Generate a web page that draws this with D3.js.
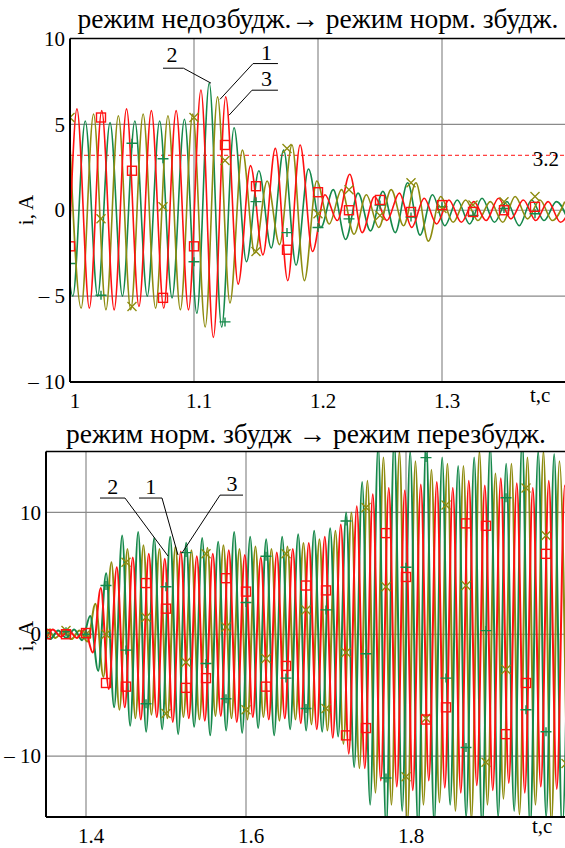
<!DOCTYPE html>
<html><head><meta charset="utf-8">
<script src="https://cdn.jsdelivr.net/npm/d3@7"></script>
<style>
html,body{margin:0;padding:0;background:#fff;}
</style></head>
<body>
<svg id="chart" width="565" height="848"></svg>
<script>
// ---------------- DATA ----------------
// Top panel: sampled extremes (peak / trough alternating), every half period (0.01 s)
const topStep = 0.01;
const topRedStart = 0.9856, topGreenStart = 0.9923, topOliveStart = 0.999;
const topRed = [5.8,-5.6,5.9,-5.7,5.8,-5.8,5.9,-5.6,5.8,-5.7,5.8,-5.8,7.0,-7.4,6.6,-4.3,2.6,-2.6,3.6,-4.1,3.8,-2.4,0.9,-0.6,2.1,-1.3,0.8,-0.6,1.0,-1.0,0.7,-0.8,0.6,-0.7,0.5,-0.6,0.7,-0.5,0.6,-0.6,0.5,-0.7,0.5];
const topGreen = [5.1,-5.0,5.2,-5.0,5.1,-5.0,5.2,-5.0,5.2,-5.1,5.3,-6.0,7.4,-6.8,4.8,-3.0,2.3,-2.2,3.5,-3.2,2.4,-1.0,1.2,-1.7,1.0,-1.2,1.1,-1.3,1.6,-1.45,0.9,-0.9,0.6,-0.8,0.7,-0.7,0.5,-0.9,0.6,-0.6,0.5,-0.7];
const topOlive = [5.5,-5.7,5.6,-5.8,5.5,-5.8,5.6,-5.7,5.5,-5.8,5.6,-6.8,6.6,-5.4,3.5,-2.5,1.7,-2.0,3.8,-4.1,1.7,-0.8,1.2,-1.4,0.9,-1.0,1.2,-0.9,1.6,-1.8,0.8,-0.7,0.6,-0.6,0.5,-0.7,0.8,-0.5,0.6,-0.6,0.5];
// Top panel markers, every 0.025 s from t = 1.0
const topMarkStart = 1.0, markStep = 0.025;
const topRedMarks = [-2.1,5.4,2.3,-5.1,-2.1,3.8,1.4,-2.3,1.05,0.0,0.6,-0.1,0.3,-0.1,0.0,0.2];
const topGreenMarks = [-3.1,-4.95,3.9,3.0,-3.0,-6.5,0.5,-1.3,-1.0,-0.5,0.3,-0.4,0.2,-0.3,0.1,-0.2];
const topOliveMarks = [5.4,-0.5,-5.6,0.2,5.4,2.9,-2.4,3.6,-0.2,1.2,-0.3,1.6,0.1,0.3,0.5,0.8];
const topLevel = 3.2;

// Bottom panel
const botStep = 0.01;
const botRedStart = 1.3385, botGreenStart = 1.3452, botOliveStart = 1.3318;
const botRed = [0.3,-0.3,0.4,-0.2,0.3,-0.3,0.4,-1.5,3.8,-4.5,5.5,-6.0,6.3,-7.0,6.6,-6.8,6.2,-7.2,6.8,-6.9,6.4,-7.1,6.6,-6.7,6.9,-7.2,6.5,-6.8,6.3,-7.0,6.7,-6.9,7.0,-7.3,7.5,-7.8,8.0,-8.5,9.0,-9.8,10.5,-11.0,11.5,-12.0,12.0,-12.5,11.8,-12.8,12.3,-12.0,12.5,-12.6,12.0,-13.0,12.6,-12.4,12.2,-12.8,12.8,-12.2,12.4,-13.0,12.0,-12.5,12.6,-12.7,12.2,-12.5];
const botGreen = [0.4,-0.4,0.3,-0.3,0.4,-0.5,1.5,-3.0,5.0,-6.0,8.1,-7.5,8.4,-8.0,7.9,-7.8,8.0,-8.2,7.5,-7.6,7.9,-8.3,7.6,-7.9,8.4,-8.1,8.0,-7.7,7.8,-8.3,8.0,-7.8,8.2,-7.9,8.5,-8.0,8.7,-8.4,10.0,-10.9,12.5,-14.0,15.5,-16.0,16.0,-14.5,15.0,-16.0,16.0,-15.5,14.5,-14.0,13.8,-15.0,14.5,-16.0,15.5,-15.0,14.0,-14.5,16.0,-16.0,15.0,-15.0,14.8,-16.0,15.5];
const botOlive = [0.3,-0.3,0.4,-0.3,0.3,-0.4,0.3,-0.6,2.5,-3.5,5.9,-6.2,7.0,-6.9,7.3,-6.6,7.0,-6.9,7.2,-6.8,6.9,-7.0,7.1,-6.7,7.3,-6.9,7.0,-7.0,7.2,-6.8,7.0,-7.1,7.2,-7.0,7.5,-7.4,7.8,-7.9,8.5,-9.0,10.0,-11.0,12.6,-13.0,14.5,-14.0,15.0,-15.5,14.2,-14.0,13.5,-13.8,14.0,-14.5,13.8,-15.2,15.0,-14.0,13.2,-13.5,14.0,-14.8,14.5,-14.0,15.0,-15.5,14.2,-14.8];
const botMarkStart = 1.35;
const botRedMarks = [0.0,0.0,0.1,-4.0,-4.3,4.2,2.1,-4.4,-3.6,4.6,3.5,-4.3,-2.6,4.0,3.6,-8.3,-7.7,8.3,4.7,-7.0,-6.0,9.1,8.9,-8.2,-4.0,6.6];
const botGreenMarks = [0.1,0.2,0.0,4.0,-1.3,-5.7,3.9,6.7,-2.4,-5.3,2.6,6.4,-3.6,-6.1,2.0,9.3,-1.6,-11.8,5.5,14.5,-3.6,-9.3,0.3,11.2,-6.2,-8.0];
const botOliveMarks = [0.1,0.3,0.0,0.0,5.9,1.4,-6.5,-2.3,6.6,0.6,-6.2,-2.0,6.6,2.0,-6.1,-1.5,10.4,3.9,-11.7,-6.9,10.6,4.0,-10.5,-2.9,12.0,8.1,-10.6];

// Axis ticks
const topXTicks = [1, 1.1, 1.2, 1.3];
const topXLabels = ["1", "1.1", "1.2", "1.3"];
const topYTicks = [10, 5, 0, -5, -10];
const topYLabels = ["10", "5", "0", "\u2013 5", "\u2013 10"];
const botXTicks = [1.4, 1.6, 1.8];
const botXLabels = ["1.4", "1.6", "1.8"];
const botYTicks = [10, 0, -10];
const botYLabels = ["10", "0", "\u2013 10"];
const topTitle = "режим недозбудж.\u2192 режим норм. збудж.";
const botTitle = "режим норм. збудж \u2192 режим перезбудж.";
const yTitle = "i, A";
const xTitle = "t,c";

const topLabels = [
  {txt:"2", tx:1.0823, tv:8.62, u1:1.075, u2:1.0915, uv:8.27, pt:1.1137, pv:7.4, from:"right"},
  {txt:"1", tx:1.1585, tv:8.74, u1:1.1476, u2:1.1677, uv:8.54, pt:1.121, pv:6.46, from:"left"},
  {txt:"3", tx:1.1585, tv:7.25, u1:1.1468, u2:1.1677, uv:6.99, pt:1.1282, pv:5.53, from:"left"}
];
const botLabels = [
  {txt:"2", tx:1.4335, tv:11.5, u1:1.4175, u2:1.44875, uv:11.18, pt:1.5025, pv:6.42, from:"right"},
  {txt:"1", tx:1.481, tv:11.5, u1:1.46625, u2:1.495, uv:11.18, pt:1.515, pv:6.5, from:"right"},
  {txt:"3", tx:1.5825, tv:11.75, u1:1.5675, u2:1.59625, uv:11.42, pt:1.52, pv:6.67, from:"left"}
];

// ---------------- DRAW ----------------
const FONT = "Liberation Serif";
const RED = "#ff1010", GREEN = "#15884a", OLIVE = "#8e8c10";
const svg = d3.select("#chart");

function txt(sel) { return sel.style("font-family", FONT).style("fill", "#000"); }

function panel(cfg) {
  const x = d3.scaleLinear().domain(cfg.xDom).range(cfg.xRange);
  const y = d3.scaleLinear().domain(cfg.yDom).range(cfg.yRange);
  const g = svg.append("g");
  const [x0, x1] = cfg.xRange, [yb, yt] = cfg.yRange;
  const clipId = "clip" + cfg.id;
  svg.append("clipPath").attr("id", clipId).append("rect")
    .attr("x", x0).attr("y", yt).attr("width", x1 - x0).attr("height", yb - yt);

  g.append("g").selectAll("line").data(cfg.gridX).join("line")
    .attr("x1", d => x(d)).attr("x2", d => x(d)).attr("y1", yt).attr("y2", yb)
    .attr("stroke", "#8a8a8a").attr("stroke-width", 1.2);
  g.append("g").selectAll("line").data(cfg.gridY).join("line")
    .attr("y1", d => y(d)).attr("y2", d => y(d)).attr("x1", x0).attr("x2", x1)
    .attr("stroke", "#8a8a8a").attr("stroke-width", 1.2);

  const plot = g.append("g").attr("clip-path", `url(#${clipId})`);
  if (cfg.level !== undefined) {
    plot.append("line").attr("x1", x0).attr("x2", x1)
      .attr("y1", y(cfg.level)).attr("y2", y(cfg.level))
      .attr("stroke", RED).attr("stroke-width", 1).attr("stroke-dasharray", "4,3");
  }
  const line = d3.line().x(d => x(d.t)).y(d => y(d.v)).curve(d3.curveMonotoneX);
  cfg.series.forEach(s => {
    const pts = s.values.map((v, i) => ({t: s.start + i * cfg.step, v}));
    plot.append("path").datum(pts).attr("d", line)
      .attr("fill", "none").attr("stroke", s.color).attr("stroke-width", cfg.lw)
      .attr("stroke-linejoin", "round");
  });
  cfg.series.forEach(s => {
    const pts = s.marks.map((v, i) => ({t: cfg.markStart + i * markStep, v}));
    const mg = plot.append("g").attr("stroke", s.color).attr("fill", "none").attr("stroke-width", 1.4);
    pts.forEach(p => {
      const px = x(p.t), py = y(p.v), r = 4.5;
      if (s.shape === "square") {
        mg.append("rect").attr("x", px - r).attr("y", py - r).attr("width", 2 * r).attr("height", 2 * r);
      } else if (s.shape === "plus") {
        mg.append("path").attr("d", `M${px - r - 1},${py}H${px + r + 1}M${px},${py - r}V${py + r}`);
      } else {
        mg.append("path").attr("d", `M${px - r},${py - r}L${px + r},${py + r}M${px - r},${py + r}L${px + r},${py - r}`);
      }
    });
  });
  if (cfg.levelLabel) {
    txt(g.append("text")).attr("x", x1 - 7).attr("y", y(cfg.level) + 11)
      .attr("text-anchor", "end").attr("font-size", 21).text(cfg.levelLabel);
  }

  g.append("line").attr("x1", x0).attr("x2", x1).attr("y1", yt).attr("y2", yt).attr("stroke", "#000").attr("stroke-width", 1.6);
  g.append("line").attr("x1", x0).attr("x2", x1).attr("y1", yb).attr("y2", yb).attr("stroke", "#000").attr("stroke-width", 2);
  g.append("line").attr("x1", x0).attr("x2", x0).attr("y1", yt).attr("y2", yb).attr("stroke", "#000").attr("stroke-width", 2);

  const yAxis = d3.axisLeft(y).tickValues(cfg.yTicks).tickSize(0).tickPadding(5)
    .tickFormat((d, i) => cfg.yLabels[i]);
  const ya = g.append("g").attr("transform", `translate(${x0},0)`).call(yAxis);
  ya.select(".domain").remove();
  txt(ya.selectAll("text")).attr("font-size", 21);

  const xAxis = d3.axisBottom(x).tickValues(cfg.xTicks).tickSize(0).tickPadding(11)
    .tickFormat((d, i) => cfg.xLabels[i]);
  const xa = g.append("g").attr("transform", `translate(0,${yb})`).call(xAxis);
  xa.select(".domain").remove();
  txt(xa.selectAll("text")).attr("font-size", 21).attr("dx", 4.5);

  txt(g.append("text")).attr("x", cfg.xTitlePos[0]).attr("y", cfg.xTitlePos[1]).attr("font-size", 21).text(xTitle);
  txt(g.append("text")).attr("transform", `translate(${cfg.yTitlePos[0]},${cfg.yTitlePos[1]}) rotate(-90)`)
    .attr("text-anchor", "middle").attr("font-size", 21).text(yTitle);
  txt(g.append("text")).attr("x", (x0 + x1) / 2).attr("y", cfg.titleY).attr("text-anchor", "middle")
    .attr("font-size", 27.5).text(cfg.title);

  cfg.labels.forEach(L => {
    txt(g.append("text")).attr("x", x(L.tx)).attr("y", y(L.tv)).attr("text-anchor", "middle")
      .attr("font-size", 22).text(L.txt);
    g.append("line").attr("x1", x(L.u1)).attr("x2", x(L.u2)).attr("y1", y(L.uv)).attr("y2", y(L.uv))
      .attr("stroke", "#000").attr("stroke-width", 1);
    const sx = L.from === "right" ? x(L.u2) : x(L.u1);
    g.append("line").attr("x1", sx).attr("y1", y(L.uv)).attr("x2", x(L.pt)).attr("y2", y(L.pv))
      .attr("stroke", "#000").attr("stroke-width", 1);
  });
}

panel({
  id: "top", xDom: [1, 1.4], xRange: [70, 566], yDom: [-10, 10], yRange: [382, 38.5],
  gridX: [1.1, 1.2, 1.3], gridY: [5, 0, -5], step: topStep, lw: 1.6, markStart: topMarkStart,
  level: topLevel, levelLabel: "3.2",
  series: [
    {values: topGreen, start: topGreenStart, color: GREEN, marks: topGreenMarks, shape: "plus"},
    {values: topOlive, start: topOliveStart, color: OLIVE, marks: topOliveMarks, shape: "cross"},
    {values: topRed, start: topRedStart, color: RED, marks: topRedMarks, shape: "square"}
  ],
  xTicks: topXTicks, xLabels: topXLabels, yTicks: topYTicks, yLabels: topYLabels,
  xTitlePos: [530, 402], yTitlePos: [33, 210], titleY: 28, title: topTitle, labels: topLabels
});

panel({
  id: "bot", xDom: [1.35, 2.0], xRange: [46, 566], yDom: [-15, 15], yRange: [817, 451.5],
  gridX: [1.4, 1.6, 1.8], gridY: [10, 0, -10], step: botStep, lw: 2.0, markStart: botMarkStart,
  series: [
    {values: botOlive, start: botOliveStart, color: OLIVE, marks: botOliveMarks, shape: "cross"},
    {values: botGreen, start: botGreenStart, color: GREEN, marks: botGreenMarks, shape: "plus"},
    {values: botRed, start: botRedStart, color: RED, marks: botRedMarks, shape: "square"}
  ],
  xTicks: botXTicks, xLabels: botXLabels, yTicks: botYTicks, yLabels: botYLabels,
  xTitlePos: [532, 833], yTitlePos: [33, 636], titleY: 443, title: botTitle, labels: botLabels
});
</script>
</body></html>
